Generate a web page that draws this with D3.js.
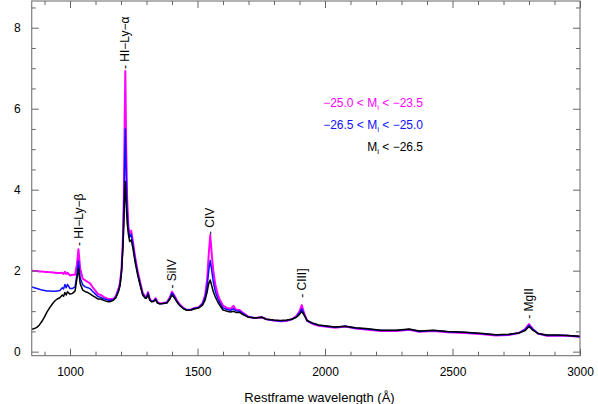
<!DOCTYPE html>
<html><head><meta charset="utf-8">
<script src="https://cdn.jsdelivr.net/npm/d3@7"></script>
<style>
body{margin:0;background:#fff;}
svg{display:block;font-family:"Liberation Sans",Arial,Helvetica,sans-serif;}
</style></head>
<body><svg id="c" width="598" height="404"></svg>
<script>
const wavelength = [850,860,870,880,890,900,910,920,930,940,950,960,970,975,980,985,990,1000,1010,1020,
1027,1033,1040,1050,1060,1070,1080,1090,1100,1110,1120,1135,1150,1160,1170,1180,1190,1196,1202,1207,
1211,1214,1217,1220,1224,1229,1234,1240,1246,1255,1265,1275,1285,1295,1300,1306,1313,1320,1328,1336,
1343,1352,1365,1380,1392,1400,1408,1418,1430,1445,1458,1475,1490,1505,1520,1530,1538,1544,1550,1556,
1562,1570,1580,1590,1600,1615,1630,1641,1650,1665,1680,1700,1725,1752,1770,1800,1825,1850,1870,1888,
1900,1909,1918,1930,1950,1975,2000,2040,2080,2120,2160,2220,2280,2330,2370,2425,2480,2550,2620,2670,
2720,2760,2785,2800,2815,2835,2870,2910,2950,3000];
const fluxFaint = [2.00,1.99,1.99,1.98,1.98,1.97,1.97,1.96,1.96,1.95,1.94,1.94,1.95,1.92,1.97,1.92,1.95,1.88,1.90,1.90,
2.15,2.53,2.05,1.80,1.76,1.72,1.68,1.58,1.50,1.42,1.40,1.34,1.30,1.30,1.30,1.38,1.55,1.70,2.05,2.70,
3.80,5.50,6.93,5.20,3.80,3.10,2.90,2.99,2.75,2.35,2.00,1.72,1.45,1.36,1.36,1.47,1.30,1.25,1.26,1.32,
1.22,1.19,1.20,1.22,1.35,1.48,1.40,1.28,1.17,1.08,1.03,1.04,1.08,1.10,1.20,1.40,1.80,2.40,2.88,2.40,
2.00,1.65,1.40,1.25,1.14,1.08,1.06,1.13,1.04,1.03,0.95,0.86,0.83,0.85,0.80,0.77,0.75,0.76,0.80,0.88,
1.00,1.15,0.95,0.76,0.69,0.64,0.62,0.59,0.62,0.57,0.55,0.51,0.51,0.54,0.49,0.51,0.48,0.46,0.43,0.40,
0.41,0.46,0.56,0.68,0.56,0.45,0.39,0.40,0.39,0.37];
const fluxMid = [1.60,1.58,1.56,1.54,1.52,1.51,1.50,1.50,1.49,1.49,1.50,1.51,1.58,1.55,1.66,1.58,1.66,1.56,1.56,1.60,
1.90,2.24,1.82,1.65,1.60,1.58,1.55,1.48,1.42,1.36,1.34,1.30,1.27,1.27,1.28,1.35,1.52,1.66,2.00,2.60,
3.50,4.60,5.50,4.50,3.50,3.00,2.82,2.90,2.68,2.30,1.95,1.68,1.43,1.34,1.34,1.45,1.28,1.24,1.25,1.30,
1.21,1.18,1.19,1.21,1.33,1.45,1.38,1.26,1.15,1.07,1.03,1.04,1.07,1.09,1.18,1.35,1.62,2.00,2.26,2.00,
1.72,1.48,1.30,1.18,1.08,1.04,1.02,1.06,1.01,1.00,0.93,0.86,0.83,0.85,0.80,0.77,0.76,0.77,0.80,0.86,
0.96,1.06,0.92,0.76,0.70,0.65,0.63,0.60,0.63,0.58,0.56,0.52,0.52,0.55,0.50,0.52,0.49,0.47,0.44,0.41,
0.42,0.46,0.54,0.65,0.55,0.45,0.40,0.40,0.40,0.37];
const fluxBright = [0.55,0.57,0.60,0.66,0.75,0.86,0.98,1.08,1.17,1.25,1.30,1.33,1.40,1.37,1.46,1.40,1.48,1.42,1.44,1.50,
1.80,2.06,1.68,1.52,1.48,1.46,1.42,1.38,1.34,1.30,1.30,1.26,1.23,1.24,1.27,1.33,1.48,1.62,1.95,2.50,
3.10,3.80,4.20,3.70,3.20,2.90,2.72,2.76,2.58,2.22,1.90,1.64,1.40,1.32,1.32,1.42,1.27,1.23,1.24,1.28,
1.20,1.18,1.19,1.20,1.30,1.40,1.34,1.24,1.14,1.06,1.02,1.03,1.06,1.08,1.15,1.28,1.48,1.68,1.77,1.62,
1.48,1.35,1.22,1.12,1.03,1.00,0.98,1.00,0.97,0.97,0.91,0.85,0.83,0.85,0.80,0.78,0.77,0.78,0.80,0.85,
0.92,0.99,0.90,0.77,0.71,0.66,0.64,0.61,0.63,0.59,0.57,0.53,0.53,0.56,0.51,0.53,0.50,0.48,0.45,0.42,
0.43,0.46,0.52,0.62,0.53,0.45,0.41,0.41,0.40,0.38];

const seriesNames = ["−25.0 < M|i| < −23.5","−26.5 < M|i| < −25.0","M|i| < −26.5"];
const seriesColors = ["#ff00ff","#1010ff","#000000"];
const lineNames = ["HI−Ly−β","HI−Ly−α","SiIV","CIV","CIII]","MgII"];
const lineWl = [1033,1216,1400,1549,1909,2798];
const lineLabelY = [2.61,6.98,1.56,2.88,1.33,0.81];
const xTicks = [1000,1500,2000,2500,3000];
const yTicks = [0,2,4,6,8];

const svg = d3.select("#c");
const L=31.75, R=580, T=1, B=355.7;
const x = d3.scaleLinear().domain([850,3000]).range([L,R]);
const y = d3.scaleLinear().domain([-0.1,8.66]).range([B,T]);

svg.append("defs").append("clipPath").attr("id","pc").append("rect")
  .attr("x",L).attr("y",T).attr("width",R-L).attr("height",B-T);

const fluxes=[fluxFaint,fluxMid,fluxBright];
const widths=[2,1.5,1.5];
const line = d3.line().x(d=>x(d[0])).y(d=>y(d[1]));
const g = svg.append("g").attr("clip-path","url(#pc)");
fluxes.forEach((f,i)=>{
  g.append("path").datum(wavelength.map((w,j)=>[w,f[j]]))
   .attr("d",line).attr("fill","none").attr("stroke",seriesColors[i])
   .attr("stroke-width",widths[i]).attr("stroke-linejoin","round");
});

const axisColor="#666";
function styleAxis(sel){sel.select(".domain").remove();sel.selectAll("line").attr("stroke",axisColor);}
const minorX = d3.range(900,3001,100).filter(v=>v%500!==0);
const minorY = d3.range(0.5,8.6,0.5).filter(v=>v%2!==0);
svg.append("g").attr("transform",`translate(0,${B})`)
  .call(d3.axisBottom(x).tickValues(xTicks).tickSize(-7).tickPadding(12).tickFormat(d3.format("d")))
  .call(styleAxis).call(s=>s.selectAll("text").attr("font-size",12).attr("fill","#000").attr("font-family","Liberation Sans,Arial,sans-serif"));
svg.append("g").attr("transform",`translate(0,${B})`)
  .call(d3.axisBottom(x).tickValues(minorX).tickSize(-4).tickFormat(""))
  .call(styleAxis);
svg.append("g").attr("transform",`translate(0,${T})`)
  .call(d3.axisTop(x).tickValues(xTicks).tickSize(-7).tickFormat(""))
  .call(styleAxis);
svg.append("g").attr("transform",`translate(0,${T})`)
  .call(d3.axisTop(x).tickValues(minorX).tickSize(-4).tickFormat(""))
  .call(styleAxis);
svg.append("g").attr("transform",`translate(${L},0)`)
  .call(d3.axisLeft(y).tickValues(yTicks).tickSize(-7).tickPadding(11).tickFormat(d3.format("d")))
  .call(styleAxis).call(s=>s.selectAll("text").attr("font-size",12).attr("fill","#000").attr("font-family","Liberation Sans,Arial,sans-serif"));
svg.append("g").attr("transform",`translate(${L},0)`)
  .call(d3.axisLeft(y).tickValues(minorY).tickSize(-4).tickFormat(""))
  .call(styleAxis);
svg.append("g").attr("transform",`translate(${R},0)`)
  .call(d3.axisRight(y).tickValues(yTicks).tickSize(-7).tickFormat(""))
  .call(styleAxis);
svg.append("g").attr("transform",`translate(${R},0)`)
  .call(d3.axisRight(y).tickValues(minorY).tickSize(-4).tickFormat(""))
  .call(styleAxis);
svg.append("rect").attr("x",L).attr("y",T).attr("width",R-L).attr("height",B-T)
  .attr("fill","none").attr("stroke",axisColor).attr("stroke-width",1);

svg.append("text").attr("x",319.5).attr("y",402).attr("text-anchor","middle")
  .attr("font-size",13).attr("fill","#000").text("Restframe wavelength (Å)");

lineNames.forEach((n,i)=>{
  svg.append("text")
    .attr("transform",`translate(${x(lineWl[i])},${y(lineLabelY[i])}) rotate(-90)`)
    .attr("dy","0.35em").attr("font-size",12).attr("fill","#000")
    .text("- "+n);
});

const legY=[107,129,151];
seriesNames.forEach((n,i)=>{
  const parts=n.split("|");
  const t=svg.append("text").attr("x",423).attr("y",legY[i]).attr("text-anchor","end")
    .attr("font-size",12).attr("fill",seriesColors[i]);
  t.append("tspan").text(parts[0]);
  t.append("tspan").attr("font-size",8).attr("dy",3).text(parts[1]);
  t.append("tspan").attr("dy",-3).text(parts[2]);
});
</script></body></html>
